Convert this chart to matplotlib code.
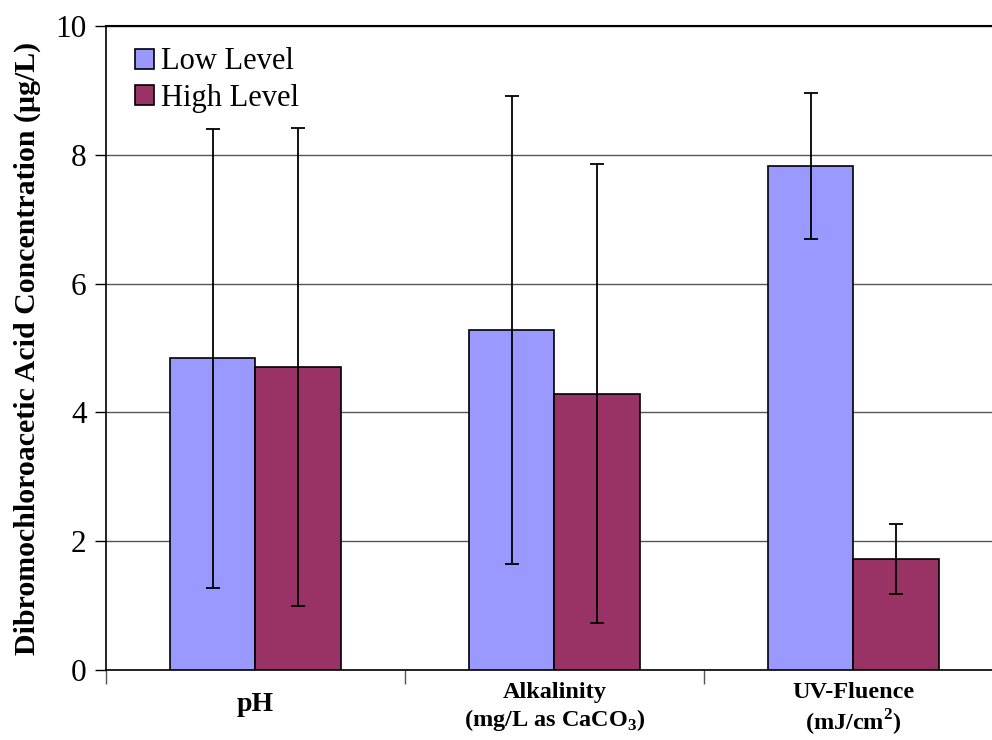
import matplotlib
matplotlib.use("Agg")
import matplotlib.pyplot as plt
import numpy as np

categories = ["pH", "Alkalinity\n(mg/L as CaCO$_\\mathbf{3}$)", "UV-Fluence\n(mJ/cm$^\\mathbf{2}$)"]
series_names = ["Low Level", "High Level"]
low_values = [4.84, 5.28, 7.83]
high_values = [4.70, 4.29, 1.72]
low_err = [3.56, 3.63, 1.13]
high_err = [3.71, 3.56, 0.54]
y_ticks = [0, 2, 4, 6, 8, 10]

plt.rcParams['font.family'] = ['Liberation Serif', 'DejaVu Serif']
plt.rcParams['mathtext.fontset'] = 'custom'
plt.rcParams['mathtext.rm'] = 'Liberation Serif'
plt.rcParams['mathtext.bf'] = 'Liberation Serif:bold'

fig = plt.figure(figsize=(9.92, 7.4), dpi=100)
ax = fig.add_axes([106/992, 1-670/740, 897/992, 644/740])

x = np.arange(len(categories))
w = 0.286
ax.bar(x - w/2, low_values, w, color='#9999FF', edgecolor='black', linewidth=1.2,
       label=series_names[0], zorder=3)
ax.bar(x + w/2, high_values, w, color='#993366', edgecolor='black', linewidth=1.2,
       label=series_names[1], zorder=3)
ax.errorbar(x - w/2, low_values, yerr=low_err, fmt='none', ecolor='black',
            elinewidth=1.3, capsize=5, capthick=1.3, zorder=4)
ax.errorbar(x + w/2, high_values, yerr=high_err, fmt='none', ecolor='black',
            elinewidth=1.3, capsize=5, capthick=1.3, zorder=4)

ax.set_xlim(-0.5, 2.5)
ax.set_ylim(0, 10)
ax.set_yticks(y_ticks)
ax.set_yticklabels([str(t) for t in y_ticks], fontsize=22.5)
ax.yaxis.grid(True, color='#555555', linewidth=1.0, zorder=0)
ax.set_axisbelow(True)

ax.set_xticks([-0.5, 0.5, 1.5, 2.5])
ax.set_xticklabels([])
ax.tick_params(axis='x', direction='out', length=10, width=1, color='#555555')
ax.tick_params(axis='y', direction='out', length=8, width=1, pad=6)

for s in ['top', 'right']:
    ax.spines[s].set_visible(False)
ax.spines['left'].set_linewidth(1.2)
ax.spines['bottom'].set_linewidth(1.2)
ax.axhline(10, color='black', linewidth=1.5, zorder=2, clip_on=False)

trans = ax.get_xaxis_transform()
cat_lines = [c.split("\n") for c in categories]
ax.text(0, -0.054, cat_lines[0][0], transform=trans, ha='center', va='center',
        fontsize=20, fontweight='bold')
ax.text(1, -0.035, cat_lines[1][0], transform=trans, ha='center', va='center',
        fontsize=17.5, fontweight='bold')
ax.text(1, -0.077, cat_lines[1][1], transform=trans, ha='center', va='center',
        fontsize=17.5, fontweight='bold')
ax.text(2, -0.035, cat_lines[2][0], transform=trans, ha='center', va='center',
        fontsize=17.5, fontweight='bold')
ax.text(2, -0.082, cat_lines[2][1], transform=trans, ha='center', va='center',
        fontsize=17.5, fontweight='bold')

ax.set_ylabel("Dibromochloroacetic Acid Concentration (µg/L)", fontsize=21.5,
              fontweight='bold', labelpad=10)

leg = ax.legend(loc='upper left', bbox_to_anchor=(0.008, 1.0), frameon=False,
                fontsize=22, handlelength=0.62, handleheight=0.62,
                handletextpad=0.25, labelspacing=0.25, borderaxespad=0.3)

fig.savefig("out.png", dpi=100)
